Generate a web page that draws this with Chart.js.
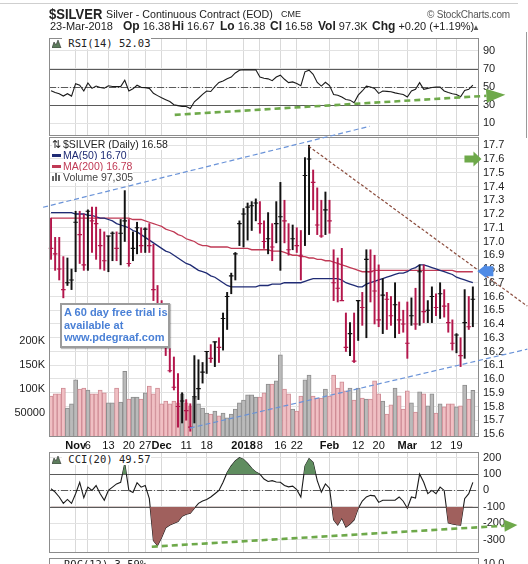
<!DOCTYPE html>
<html>
<head>
<meta charset="utf-8">
<title>$SILVER</title>
<script src="https://cdn.jsdelivr.net/npm/chart.js@4.4.1/dist/chart.umd.min.js"></script>
<style>
  html, body { margin: 0; padding: 0; }
  body { position: relative; width: 528px; height: 564px; overflow: hidden; background: #fff;
         font-family: "Liberation Sans", Arial, sans-serif; color: #222; }
  canvas { position: absolute; left: 0; top: 0; }
  .t { position: absolute; white-space: nowrap; font-size: 11px; line-height: 13px; }
  .t b { font-size: 12px; }
  .mono { position: absolute; white-space: nowrap; font-family: "DejaVu Sans Mono", monospace; font-size: 10.5px; line-height: 12px; }
  .mono span, .lab span { background: #fff; }
  .lab { position: absolute; left: 52px; white-space: nowrap; font-size: 10.5px; line-height: 11px; }
  .ico { display: inline-block; width: 11px; }
  .sw { display: inline-block; width: 9px; height: 3px; margin-right: 2px; vertical-align: 2px; }
  #promo { position: absolute; left: 60px; top: 303px; width: 104px; height: 40px; padding: 1px 0 0 2px;
           border: 2px solid #9c9c9c; background: #fff; color: #4a80d6; font-weight: bold;
           font-size: 11px; line-height: 12.5px; white-space: nowrap; box-shadow: 1px 1px 1px rgba(0,0,0,0.25); }
</style>
</head>
<body>
<canvas id="rsi" width="528" height="564"></canvas>
<canvas id="cci" width="528" height="564"></canvas>
<canvas id="price" width="528" height="564"></canvas>

<div style="position:absolute;left:0;top:3px;width:518px;height:1px;background:#cfcfcf"></div>
<div style="position:absolute;left:526px;top:32px;width:1px;height:106px;background:#9a9a9a"></div>

<div class="t" style="left:49px;top:5px;font-size:15.5px;line-height:17px;font-weight:bold;transform:scaleX(0.84);transform-origin:0 0">$SILVER</div>
<div class="t" style="left:106px;top:8px;font-size:10.7px">Silver - Continuous Contract (EOD)</div>
<div class="t" style="left:281px;top:9px;font-size:9px;line-height:11px">CME</div>
<div class="t" style="left:427px;top:8px;font-size:10px;color:#555;letter-spacing:-0.2px">© StockCharts.com</div>

<div class="t" style="left:50px;top:20px">23-Mar-2018</div>
<div class="t" style="left:123px;top:20px"><b>Op</b> 16.38</div>
<div class="t" style="left:172px;top:20px"><b>Hi</b> 16.67</div>
<div class="t" style="left:220px;top:20px"><b>Lo</b> 16.38</div>
<div class="t" style="left:270px;top:20px"><b>Cl</b> 16.58</div>
<div class="t" style="left:318px;top:20px"><b>Vol</b> 97.3K</div>
<div class="t" style="left:372px;top:20px"><b>Chg</b> +0.20 (+1.19%)</div>
<div class="t" style="left:472px;top:21px;font-size:8px;color:#555">▲</div>

<div class="mono" style="left:52px;top:37px"><svg width="10" height="9" style="vertical-align:-1px"><polygon points="0,9 2,3 4,6 6,1 9,9" fill="#5d7d5d" stroke="#333" stroke-width="0.6"/></svg><span> RSI(14) 52.03</span></div>

<div class="lab" style="top:139px"><span class="ico">⇅</span><span>$SILVER (Daily) 16.58</span></div>
<div class="lab" style="top:150px;color:#1f2b74"><span class="sw" style="background:#1f2b74"></span><span>MA(50) 16.70</span></div>
<div class="lab" style="top:161px;color:#c03a55"><span class="sw" style="background:#c03a55"></span><span>MA(200) 16.78</span></div>
<div class="lab" style="top:172px;color:#444"><svg width="10" height="8" style="margin-right:1px"><rect x="0" y="3" width="2" height="5" fill="#666"/><rect x="3" y="0" width="2" height="8" fill="#666"/><rect x="6" y="2" width="2" height="6" fill="#666"/></svg><span>Volume 97,305</span></div>

<div id="promo">A 60 day free trial is<br>available at<br>www.pdegraaf.com</div>

<div class="mono" style="left:52px;top:453px"><svg width="10" height="9" style="vertical-align:-1px"><polygon points="0,9 2,3 4,6 6,1 9,9" fill="#5d7d5d" stroke="#333" stroke-width="0.6"/></svg><span> CCI(20) 49.57</span></div>

<div style="position:absolute;left:49px;top:558px;width:428px;height:20px;border:1px solid #8c8c8c"></div>
<div class="mono" style="left:64px;top:558px">ROC(12) 3.59%</div>
<div class="t" style="left:483px;top:557px">10.0</div>

<script>
// trading days shown, Oct 24 2017 .. Mar 23 2018
const dates = [
  'Oct 24','Oct 25','Oct 26','Oct 27','Oct 30','Oct 31',
  'Nov 1','Nov 2','Nov 3','Nov 6','Nov 7','Nov 8','Nov 9','Nov 10','Nov 13','Nov 14','Nov 15','Nov 16','Nov 17',
  'Nov 20','Nov 21','Nov 22','Nov 24','Nov 27','Nov 28','Nov 29','Nov 30',
  'Dec 1','Dec 4','Dec 5','Dec 6','Dec 7','Dec 8','Dec 11','Dec 12','Dec 13','Dec 14','Dec 15','Dec 18','Dec 19',
  'Dec 20','Dec 21','Dec 22','Dec 26','Dec 27','Dec 28','Dec 29',
  'Jan 2','Jan 3','Jan 4','Jan 5','Jan 8','Jan 9','Jan 10','Jan 11','Jan 12','Jan 16','Jan 17','Jan 18','Jan 19',
  'Jan 22','Jan 23','Jan 24','Jan 25','Jan 26','Jan 29','Jan 30','Jan 31',
  'Feb 1','Feb 2','Feb 5','Feb 6','Feb 7','Feb 8','Feb 9','Feb 12','Feb 13','Feb 14','Feb 15','Feb 16',
  'Feb 20','Feb 21','Feb 22','Feb 23','Feb 26','Feb 27','Feb 28',
  'Mar 1','Mar 2','Mar 5','Mar 6','Mar 7','Mar 8','Mar 9','Mar 12','Mar 13','Mar 14','Mar 15','Mar 16',
  'Mar 19','Mar 20','Mar 21','Mar 22','Mar 23'
];

const tickDates = ['Nov 1','Nov 6','Nov 13','Nov 20','Nov 27','Dec 1','Dec 11','Dec 18','Jan 2','Jan 8','Jan 16','Jan 22','Feb 1','Feb 12','Feb 20','Mar 1','Mar 12','Mar 19'];
const tickText  = ['Nov','6','13','20','27','Dec','11','18','2018','8','16','22','Feb','12','20','Mar','12','19'];

const highs = [
  17.17,17.03,17.03,16.89,16.88,16.80,17.22,17.22,17.20,17.23,
  17.25,17.25,17.09,17.07,17.04,17.07,17.07,17.16,17.37,17.16,
  17.07,17.14,17.10,17.10,17.13,16.98,16.68,16.57,16.43,16.22,
  16.16,16.04,15.90,15.85,15.82,16.17,16.14,16.12,16.20,16.25,
  16.27,16.30,16.48,16.63,16.77,16.92,17.15,17.24,17.28,17.29,
  17.31,17.29,17.15,17.21,17.13,17.29,17.43,17.30,17.13,17.12,
  17.10,17.08,17.61,17.70,17.52,17.39,17.30,17.36,17.30,16.94,
  16.88,16.95,16.48,16.41,16.48,16.57,16.63,16.94,16.94,16.90,
  16.83,16.73,16.63,16.60,16.70,16.56,16.50,16.56,16.59,16.66,
  16.83,16.83,16.57,16.67,16.62,16.70,16.65,16.55,16.43,16.33,
  16.30,16.65,16.60,16.67
];
const lows = [
  16.87,16.79,16.72,16.59,16.68,16.65,16.78,16.84,16.79,16.79,
  16.92,16.87,16.80,16.79,16.78,16.86,16.86,16.83,17.00,16.82,
  16.86,16.91,16.92,16.92,16.92,16.57,16.46,16.30,16.17,16.05,
  15.92,15.65,15.68,15.70,15.62,15.68,15.85,15.97,16.04,16.12,
  16.09,16.12,16.21,16.36,16.62,16.72,16.97,16.96,17.01,17.08,
  17.15,17.06,16.95,16.91,16.86,16.99,16.79,16.99,16.90,16.94,
  16.92,16.72,16.97,17.05,17.23,17.05,17.03,17.05,17.06,16.57,
  16.56,16.57,16.20,16.17,16.12,16.28,16.39,16.30,16.56,16.40,
  16.38,16.33,16.36,16.39,16.30,16.33,16.34,16.15,16.39,16.36,
  16.39,16.41,16.41,16.41,16.46,16.44,16.45,16.34,16.21,16.19,
  16.09,16.15,16.36,16.38
];
const closes = [
  16.95,16.91,16.80,16.65,16.70,16.72,17.14,17.05,16.83,17.22,
  17.15,17.13,16.97,16.86,17.04,17.06,16.95,17.06,17.15,16.84,
  16.95,17.10,16.97,17.09,16.97,16.65,16.52,16.39,16.25,16.06,
  15.94,15.80,15.84,15.77,15.65,15.87,15.93,16.05,16.20,16.15,
  16.27,16.23,16.44,16.60,16.75,16.91,17.13,17.20,17.25,17.26,
  17.28,17.13,17.00,17.02,16.96,17.13,17.18,17.15,16.94,17.02,
  16.97,16.90,17.48,17.60,17.43,17.12,17.04,17.23,17.15,16.70,
  16.66,16.57,16.23,16.33,16.13,16.57,16.52,16.87,16.78,16.64,
  16.43,16.61,16.58,16.46,16.54,16.43,16.40,16.26,16.46,16.40,
  16.78,16.49,16.50,16.60,16.52,16.62,16.53,16.41,16.26,16.32,
  16.17,16.41,16.38,16.58
];
const ma50 = [
  17.21,17.21,17.21,17.21,17.21,17.21,17.20,17.20,17.20,17.19,
  17.19,17.18,17.17,17.17,17.16,17.15,17.13,17.12,17.11,17.10,
  17.08,17.07,17.05,17.03,17.01,16.99,16.97,16.95,16.93,16.92,
  16.90,16.88,16.86,16.84,16.83,16.81,16.79,16.78,16.77,16.75,
  16.74,16.72,16.70,16.68,16.67,16.67,16.67,16.67,16.67,16.67,
  16.67,16.68,16.68,16.68,16.69,16.69,16.69,16.70,16.70,16.70,
  16.70,16.70,16.71,16.72,16.73,16.73,16.73,16.73,16.73,16.73,
  16.73,16.72,16.70,16.69,16.68,16.67,16.67,16.69,16.70,16.71,
  16.72,16.73,16.74,16.75,16.76,16.77,16.77,16.78,16.80,16.81,
  16.83,16.83,16.82,16.81,16.80,16.79,16.78,16.77,16.76,16.74,
  16.73,16.72,16.71,16.70
];
const ma200 = [
  17.17,17.17,17.17,17.17,17.17,17.17,17.17,17.17,17.17,17.17,
  17.17,17.17,17.17,17.17,17.17,17.17,17.17,17.17,17.17,17.17,
  17.16,17.16,17.16,17.15,17.14,17.13,17.12,17.11,17.09,17.08,
  17.07,17.05,17.04,17.02,17.01,17.00,16.98,16.97,16.97,16.96,
  16.96,16.96,16.96,16.96,16.95,16.95,16.95,16.95,16.95,16.94,
  16.94,16.94,16.94,16.94,16.93,16.93,16.93,16.92,16.91,16.90,
  16.90,16.89,16.89,16.88,16.88,16.87,16.87,16.86,16.86,16.85,
  16.84,16.83,16.82,16.81,16.80,16.79,16.78,16.78,16.78,16.79,
  16.79,16.79,16.79,16.79,16.79,16.79,16.79,16.79,16.79,16.79,
  16.79,16.79,16.79,16.79,16.79,16.79,16.79,16.79,16.79,16.78,
  16.78,16.78,16.78,16.78
];
// volume in thousands of contracts
const volumeK = [
  85,90,90,102,60,69,119,100,102,98,
  90,90,98,92,71,71,102,73,137,79,
  83,83,79,92,106,90,102,69,75,69,
  75,71,90,71,65,81,69,60,50,48,
  54,44,50,40,48,58,71,77,88,88,
  83,83,92,110,110,117,171,100,90,58,
  54,85,119,129,85,81,81,100,85,129,
  102,115,96,102,77,102,81,79,79,117,
  90,75,48,67,102,86,58,96,71,52,
  94,90,65,90,50,69,63,69,69,63,
  65,108,79,97.3
];
const rsi = [
  46,44,42.6,40,42.6,40,53.7,52,45.6,54.4,
  48.5,51,49.5,48.6,51.4,50.5,50.4,50.4,57.4,45.6,
  48,51.9,49.6,49.3,48.5,43,40.5,38.1,36,34,
  30.5,29.5,28.5,28.5,26.3,33.7,37.6,41.8,45.6,45,
  50.4,55,56.7,59,61,65.5,68.5,69,68.9,69,
  68.9,61,59.6,59,57,61,63,58.5,54.8,55.6,
  53.9,51.4,66.7,68.5,64,55,51,55.2,51.5,41.8,
  41,39,36.3,35.5,32.6,41,45.6,51,50,48.5,
  43,45.6,45.2,44.8,43.5,42.6,41.8,39,45.6,47.4,
  54.8,47.4,48.5,49.5,50,50,45.6,44,42.6,41.8,
  39.3,46.3,47.4,52.03
];
const cci = [
  10,-10,-40,-79,-55,-79,-20,50,-45,20,
  0,30,-20,-60,0,20,40,50,165,0,
  -13,47,20,30,-50,-307,-337,-288,-228,-212,
  -200,-190,-158,-145,-140,-109,-79,-65,-55,-40,
  -20,0,50,110,150,180,200,190,165,135,
  112,100,70,55,60,52,50,30,22,26,
  5,-40,149,195,170,60,-10,40,14,-179,
  -212,-168,-224,-205,-180,-110,-65,-40,-30,-33,
  -73,-60,-60,-60,-60,-40,-66,-109,-40,-46,
  100,50,-20,0,-20,20,0,-198,-205,-210,
  -212,-50,-20,49.57
];

const priceTicks = [15.6,15.7,15.8,15.9,16.0,16.1,16.2,16.3,16.4,16.5,16.6,16.7,16.8,16.9,17.0,17.1,17.2,17.3,17.4,17.5,17.6,17.7];
const volTicks = [50, 100, 150, 200];
const volTickText = ['50000', '100K', '150K', '200K'];
const rsiTicks = [10, 30, 50, 70, 90];
const cciTicks = [-300, -200, -100, 0, 100, 200];

// hand drawn lines, as [bar index, value]
const upperChannel = [[-1.95, 17.249], [77.8, 17.838]];
const lowerChannel = [[33.9, 15.643], [116.3, 16.217]];
const resistance   = [[62.9, 17.693], [116.3, 16.53]];
const rsiSupport   = [[30.2, 19.3], [106.3, 40.3]];
const cciSupport   = [[24.6, -344], [110.7, -216]];
const targetLevel  = [105.1, 17.6];
const ma200Mark    = [104.1, 16.784];

Chart.defaults.font.family = '"Liberation Sans", Arial, sans-serif';
Chart.defaults.font.size = 11;
Chart.defaults.color = '#222';
Chart.defaults.animation = false;
Chart.defaults.events = [];
Chart.defaults.plugins.legend.display = false;
Chart.defaults.plugins.tooltip.enabled = false;

const labels = dates.concat(['']);   // one empty slot after the last bar
const AXIS_W = 49;
const up = closes.map((c, i) => i > 0 && c > closes[i - 1]);
const barColors = up.map(u => u ? '#111111' : '#b3164b');
const volFill = up.map(u => u ? '#bababa' : '#f0bfc3');
const volEdge = up.map(u => u ? '#8d8d8d' : '#cf8c95');

function tickIndex(i) { return tickDates.indexOf(labels[i]); }

function xScale(withLabels) {
  return {
    type: 'category',
    offset: true,
    border: { display: false },
    grid: {
      offset: false,
      drawTicks: false,
      color: ctx => tickIndex(ctx.index) >= 0 ? '#d9d9d9' : 'rgba(0,0,0,0)'
    },
    ticks: {
      display: withLabels,
      autoSkip: false,
      maxRotation: 0,
      padding: 2,
      color: '#111',
      callback: (v, i) => { const k = tickIndex(i); return k < 0 ? '' : tickText[k]; },
      font: ctx => {
        const k = tickIndex(ctx.index);
        return { size: 11, weight: k >= 0 && tickText[k].length > 2 ? 'bold' : 'normal' };
      }
    },
    afterFit: s => { s.height = withLabels ? 15 : 0; }
  };
}

function valueScale(min, max, values, fmt, position, grid) {
  return {
    position: position, min: min, max: max,
    border: { display: false },
    grid: grid ? { color: '#e2e2e2', drawTicks: false } : { display: false, drawTicks: false },
    ticks: { padding: 4, color: '#222', font: { size: 11 }, autoSkip: false, callback: fmt },
    afterBuildTicks: s => { s.ticks = values.map(v => ({ value: v })); },
    afterFit: s => { s.width = AXIS_W; }
  };
}

const framePlugin = {
  id: 'frame',
  afterDraw(chart) {
    const { ctx, chartArea: a } = chart;
    ctx.save();
    ctx.strokeStyle = '#8c8c8c';
    ctx.lineWidth = 1;
    ctx.strokeRect(Math.round(a.left) + 0.5, Math.round(a.top) + 0.5, Math.round(a.width) - 1, Math.round(a.height) - 1);
    ctx.restore();
  }
};

function levelsPlugin(solid, dashed) {
  return {
    id: 'levels',
    beforeDatasetsDraw(chart) {
      const { ctx, chartArea: a, scales: { y } } = chart;
      const line = v => {
        const py = Math.round(y.getPixelForValue(v)) + 0.5;
        ctx.beginPath(); ctx.moveTo(a.left, py); ctx.lineTo(a.right, py); ctx.stroke();
      };
      ctx.save();
      ctx.strokeStyle = '#5a5a5a';
      ctx.lineWidth = 1;
      solid.forEach(line);
      ctx.setLineDash([7, 2, 1, 2]);
      dashed.forEach(line);
      ctx.restore();
    }
  };
}

function px(chart, p) {
  return [chart.scales.x.getPixelForValue(p[0]), chart.scales.y.getPixelForValue(p[1])];
}

function drawSegment(chart, seg, color, width, dash) {
  const ctx = chart.ctx;
  const a = px(chart, seg[0]), b = px(chart, seg[1]);
  ctx.save();
  ctx.strokeStyle = color; ctx.lineWidth = width; ctx.setLineDash(dash);
  ctx.beginPath(); ctx.moveTo(a[0], a[1]); ctx.lineTo(b[0], b[1]); ctx.stroke();
  ctx.restore();
}

function drawHead(chart, seg, color, len, half) {
  const ctx = chart.ctx;
  const a = px(chart, seg[0]), b = px(chart, seg[1]);
  ctx.save();
  ctx.translate(b[0], b[1]);
  ctx.rotate(Math.atan2(b[1] - a[1], b[0] - a[0]));
  ctx.fillStyle = color;
  ctx.beginPath(); ctx.moveTo(0, -half); ctx.lineTo(len, 0); ctx.lineTo(0, half); ctx.closePath(); ctx.fill();
  ctx.restore();
}

// block arrow with its tip on a price level; dir 1 = pointing right, -1 = left
function drawBlockArrow(chart, at, dir, color, headLen, headHalf, shaftLen, shaftHalf) {
  const ctx = chart.ctx;
  const t = px(chart, at);
  const pts = [[0, 0], [headLen, -headHalf], [headLen, -shaftHalf], [headLen + shaftLen, -shaftHalf],
               [headLen + shaftLen, shaftHalf], [headLen, shaftHalf], [headLen, headHalf]];
  ctx.save();
  ctx.fillStyle = color;
  ctx.beginPath();
  pts.forEach((p, i) => {
    const x = t[0] - dir * p[0], y = t[1] + p[1];
    if (i === 0) ctx.moveTo(x, y); else ctx.lineTo(x, y);
  });
  ctx.closePath(); ctx.fill();
  ctx.restore();
}

const GREEN = '#6ea94a';

// RSI panel
new Chart(document.getElementById('rsi'), {
  type: 'line',
  data: {
    labels: labels,
    datasets: [{ data: rsi, borderColor: '#1a1a1a', borderWidth: 1.1, pointRadius: 0, tension: 0 }]
  },
  options: {
    responsive: false,
    layout: { padding: { top: 38, bottom: 564 - 136, left: AXIS_W, right: 0 } },
    scales: {
      x: xScale(false),
      y: valueScale(-4, 104, rsiTicks, v => String(v), 'right', true)
    }
  },
  plugins: [levelsPlugin([30, 70], [50]), framePlugin, {
    id: 'rsiLines',
    afterDraw(chart) {
      drawSegment(chart, rsiSupport, GREEN, 2.6, [6, 4]);
      drawHead(chart, rsiSupport, GREEN, 19, 7);
    }
  }]
});

// CCI panel
new Chart(document.getElementById('cci'), {
  type: 'line',
  data: {
    labels: labels,
    datasets: [
      { data: cci, borderWidth: 0, pointRadius: 0, fill: { target: { value: 100 }, above: '#5f8d5f', below: 'rgba(0,0,0,0)' } },
      { data: cci, borderWidth: 0, pointRadius: 0, fill: { target: { value: -100 }, above: 'rgba(0,0,0,0)', below: '#a0605d' } },
      { data: cci, borderColor: '#1a1a1a', borderWidth: 1.1, pointRadius: 0, fill: false, tension: 0 }
    ]
  },
  options: {
    responsive: false,
    layout: { padding: { top: 452, bottom: 6, left: AXIS_W, right: 0 } },
    scales: {
      x: xScale(false),
      y: valueScale(-385, 235, cciTicks, v => String(v), 'right', true)
    }
  },
  plugins: [levelsPlugin([-100, 100], [0]), framePlugin, {
    id: 'cciLines',
    afterDraw(chart) {
      drawSegment(chart, cciSupport, GREEN, 2.6, [6, 4]);
      drawHead(chart, cciSupport, GREEN, 13, 6);
    }
  }]
});

// price + volume panel
new Chart(document.getElementById('price'), {
  type: 'bar',
  data: {
    labels: labels,
    datasets: [
      { type: 'line', data: ma50, borderColor: '#1f2b74', borderWidth: 1.3, pointRadius: 0, order: 2 },
      { type: 'line', data: ma200, borderColor: '#c03a55', borderWidth: 1.3, pointRadius: 0, order: 2 },
      { type: 'line', data: closes, showLine: false, pointStyle: 'line', pointRadius: 2.3,
        pointBorderWidth: 1.2, pointBorderColor: barColors, order: 0 },
      { type: 'bar', data: highs.map((h, i) => [lows[i], h]), backgroundColor: barColors,
        barThickness: 1.3, grouped: false, order: 1 },
      { type: 'bar', yAxisID: 'yVol', data: volumeK, backgroundColor: volFill, borderColor: volEdge,
        borderWidth: 1, barPercentage: 1, categoryPercentage: 1, grouped: false, order: 5 }
    ]
  },
  options: {
    responsive: false,
    layout: { padding: { top: 137, bottom: 564 - 452, left: 0, right: 0 } },
    scales: {
      x: xScale(true),
      y: valueScale(15.578, 17.76, priceTicks, v => v.toFixed(1), 'right', true),
      yVol: valueScale(0, 625, volTicks, v => volTickText[volTicks.indexOf(v)], 'left', false)
    }
  },
  plugins: [framePlugin, {
    id: 'priceLines',
    afterDraw(chart) {
      drawSegment(chart, upperChannel, '#6a93d8', 1.2, [5, 3]);
      drawSegment(chart, lowerChannel, '#6a93d8', 1.2, [5, 3]);
      drawSegment(chart, resistance, '#8a4b3c', 1.2, [3, 2]);
      drawBlockArrow(chart, targetLevel, 1, GREEN, 8, 7.5, 9, 3.5);
      drawBlockArrow(chart, ma200Mark, -1, '#4f8be6', 9, 7, 7, 5);
    }
  }]
});
</script>
</body>
</html>
